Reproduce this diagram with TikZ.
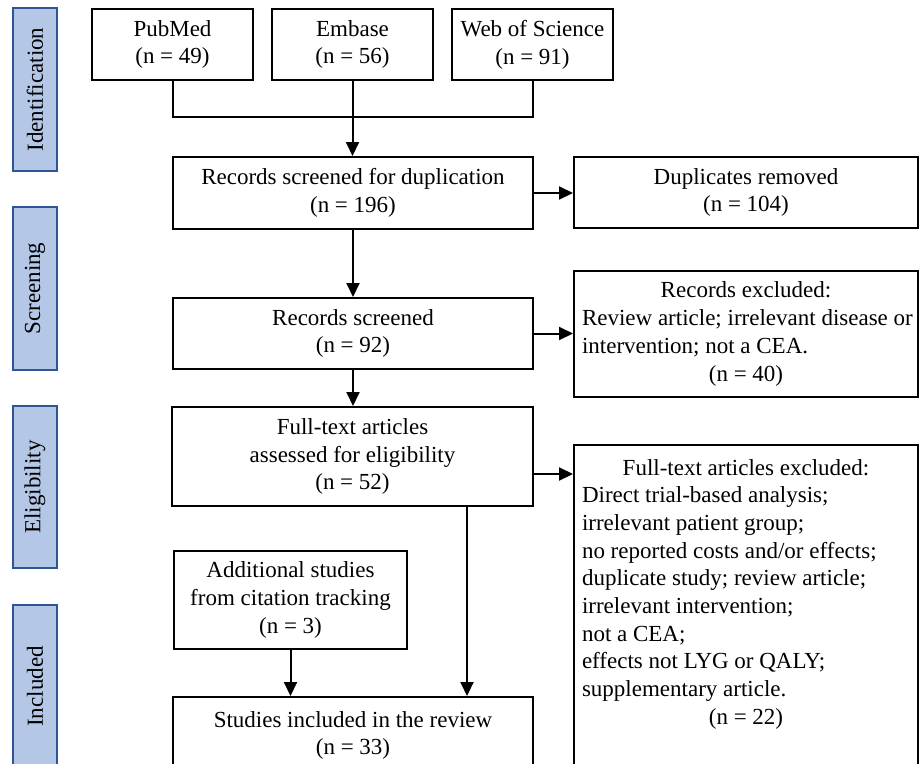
\documentclass[tikz,border=0pt]{standalone}
\usepackage{fontspec}
\setmainfont{Liberation Serif}
\usetikzlibrary{arrows.meta}
\definecolor{sidefill}{HTML}{B4C7E7}
\definecolor{sideline}{HTML}{2F5597}
\frenchspacing
\newcommand\myleftln[1]{\mbox{\spaceskip=0pt\xspaceskip=0pt\relax\hspace*{6pt}#1}}
\newcommand\mymidln[1]{\makebox[\linewidth]{\spaceskip=0pt\xspaceskip=0pt\relax #1}}
\begin{document}
\begin{tikzpicture}[x=1pt,y=-1pt,
  txt/.style={inner sep=0pt, font=\fontsize{23}{27.7}\selectfont},
  box/.style={draw=black, line width=2pt, inner sep=0pt, align=center, font=\fontsize{23}{27.7}\selectfont},
  side/.style={draw=sideline, fill=sidefill, line width=2pt, rotate=90, inner sep=0pt, font=\fontsize{23}{27.7}\selectfont},
  ln/.style={line width=2pt},
  arr/.style={line width=2pt, -{Triangle[length=14pt,width=13pt]}}]
\useasboundingbox (0,0) rectangle (920,763);
\clip (0,0) rectangle (920,763);
% side labels
\node[side, minimum width=163pt, minimum height=44pt] (s1) at (35,89.5) {Identification};
\node[side, minimum width=163pt, minimum height=44pt] (s2) at (35,288.5) {Screening};
\node[side, minimum width=162pt, minimum height=44pt] (s3) at (35,487) {Eligibility};
\node[side, minimum width=163pt, minimum height=44pt] (s4) at (35,686.5) {Included};
% sources
\node[box, minimum width=161pt, minimum height=71pt] (pub) at (172.5,44.5) {PubMed\\(n = 49)};
\node[box, minimum width=161pt, minimum height=71pt] (emb) at (352.5,44.5) {Embase\\(n = 56)};
\node[box, minimum width=161pt, minimum height=71pt] (wos) at (532.5,44.5) {Web of Science\\(n = 91)};
% main column
\node[box, minimum width=360pt, minimum height=72pt] (dup) at (353,193) {Records screened for duplication\\(n = 196)};
\node[box, minimum width=344pt, minimum height=71pt] (dupr) at (746,192.5) {Duplicates removed\\(n = 104)};
\node[box, minimum width=360pt, minimum height=71pt] (scr) at (353,333.5) {Records screened\\(n = 92)};
\node[box, minimum width=344pt, minimum height=126pt, text width=340pt, inner xsep=2pt, align=left] (rex) at (746,334)
  {\mymidln{Records excluded:}\\
   \myleftln{Review article; irrelevant disease or}\\
   \myleftln{intervention; not a CEA.}\\
   \mymidln{(n = 40)}};
\node[box, minimum width=361pt, minimum height=99pt] (ft) at (352.5,456.5) {Full-text articles\\assessed for eligibility\\(n = 52)};
\node[box, minimum width=344pt, minimum height=355pt] (fex) at (746,622.5) {};
\node[txt, anchor=base, text width=340pt, align=left] (fextext) at (746,475)
  {\mymidln{Full-text articles excluded:}\\
   \myleftln{Direct trial-based analysis;}\\
   \myleftln{irrelevant patient group;}\\
   \myleftln{no reported costs and/or effects;}\\
   \myleftln{duplicate study; review article;}\\
   \myleftln{irrelevant intervention;}\\
   \myleftln{not a CEA;}\\
   \myleftln{effects not LYG or QALY;}\\
   \myleftln{supplementary article.}\\
   \mymidln{(n = 22)}};
\node[box, minimum width=233pt, minimum height=98pt] (add) at (290.5,600) {Additional studies\\from citation tracking\\(n = 3)};
\node[box, minimum width=360pt, minimum height=77pt] (inc) at (353,735.5) {Studies included in the review\\(n = 33)};
% connectors
\coordinate (j) at (0,117);
\coordinate (k) at (0,474);
\coordinate (m) at (467,0);
\draw[ln] (pub.south) -- (pub.south |- j) -- (wos.south |- j) -- (wos.south);
\draw[arr] (emb.south) -- (emb.south |- dup.north);
\draw[arr] (dup.east) -- (dup.east -| dupr.west);
\draw[arr] (dup.south) -- (dup.south |- scr.north);
\draw[arr] (scr.east) -- (scr.east -| rex.west);
\draw[arr] (scr.south) -- (scr.south |- ft.north);
\draw[arr] (ft.east |- k) -- (fex.west |- k);
\draw[arr] (ft.south -| m) -- (inc.north -| m);
\draw[arr] (add.south) -- (add.south |- inc.north);
\end{tikzpicture}
\end{document}
